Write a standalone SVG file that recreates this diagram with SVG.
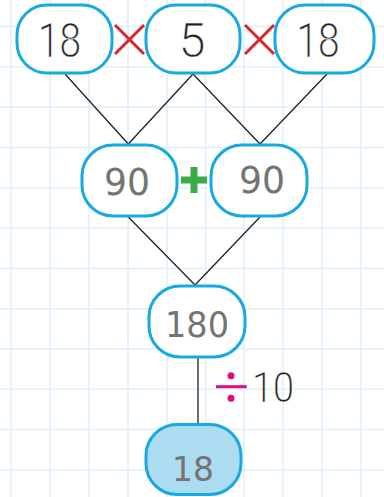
<svg xmlns="http://www.w3.org/2000/svg" width="384" height="497" viewBox="0 0 384 497">
<style>
.grid{stroke:#dff0fb;stroke-width:1.5;fill:none}
.node{fill:#ffffff;stroke:#17a9e1;stroke-width:3}
.filled{fill:#abdcf1}
.num{font-family:Roboto,"Liberation Sans",sans-serif;font-weight:300;fill:#222222;text-anchor:middle;stroke:#ffffff;stroke-width:0.4}
.hand{font-family:"DejaVu Sans",sans-serif;fill:#747474;text-anchor:middle}
.conn line{stroke:#222222;stroke-width:1.3}
.times{stroke:#d9262d;stroke-width:3}
</style>
<rect width="384" height="497" fill="#ffffff"/>
<path class="grid" d="M11 0V497M50 0V497M89 0V497M128 0V497M167 0V497M205.5 0V497M244 0V497M283 0V497M322 0V497M361 0V497M0 26.5H384M0 66.8H384M0 107H384M0 147.5H384M0 187.8H384M0 228.2H384M0 268.4H384M0 308.7H384M0 349H384M0 389.3H384M0 429.6H384M0 469.9H384"/>
<g id="connectors" class="conn">
<line x1="65" y1="74" x2="128.3" y2="144"/>
<line x1="193" y1="74" x2="128.3" y2="144"/>
<line x1="193" y1="74" x2="260" y2="144"/>
<line x1="327" y1="74" x2="260" y2="144"/>
<line x1="128.3" y1="217" x2="195" y2="285"/>
<line x1="260" y1="217" x2="195" y2="285"/>
<line x1="198" y1="357" x2="198" y2="424"/>
</g>
<g id="n18a"><rect class="node" x="17" y="5" width="95" height="68" rx="30"/><text class="num" x="59.5" y="57" font-size="48" textLength="43" lengthAdjust="spacingAndGlyphs">18</text></g>
<g id="op1"><line class="times" x1="115" y1="25" x2="144" y2="54"/><line class="times" x1="144" y1="25" x2="115" y2="54"/></g>
<g id="n5"><rect class="node" x="146" y="5" width="94" height="68" rx="30"/><text class="num" x="192" y="57" font-size="48">5</text></g>
<g id="op2"><line class="times" x1="245" y1="25" x2="274" y2="54"/><line class="times" x1="274" y1="25" x2="245" y2="54"/></g>
<g id="n18b"><rect class="node" x="275" y="5" width="99" height="68" rx="30"/><text class="num" x="318" y="57" font-size="48" textLength="43" lengthAdjust="spacingAndGlyphs">18</text></g>
<g id="n90a"><rect class="node" x="82" y="145" width="95" height="71" rx="31"/><text class="hand" x="127" y="195" font-size="38" textLength="46" lengthAdjust="spacingAndGlyphs">90</text></g>
<g id="plus"><rect x="181" y="176.5" width="26" height="7" fill="#3bab4a"/><rect x="190.5" y="167" width="7" height="26" fill="#3bab4a"/></g>
<g id="n90b"><rect class="node" x="211" y="145" width="96" height="71" rx="31"/><text class="hand" x="262" y="193" font-size="38" textLength="46" lengthAdjust="spacingAndGlyphs">90</text></g>
<g id="n180"><rect class="node" x="149" y="286" width="96" height="71" rx="31"/><text class="hand" x="197" y="337" font-size="36" textLength="64" lengthAdjust="spacingAndGlyphs">180</text></g>
<g id="div"><line x1="216" y1="386.7" x2="246.7" y2="386.7" stroke="#e5087f" stroke-width="3"/><circle cx="231" cy="375.7" r="3.5" fill="#e5087f"/><circle cx="231" cy="398.3" r="3.5" fill="#e5087f"/><text class="num" x="273" y="402" font-size="43" textLength="42" lengthAdjust="spacingAndGlyphs">10</text></g>
<g id="n18c"><rect class="node filled" x="146" y="424.5" width="95" height="70" rx="31"/><text class="hand" x="193" y="481" font-size="34" textLength="42" lengthAdjust="spacingAndGlyphs">18</text></g>
</svg>
